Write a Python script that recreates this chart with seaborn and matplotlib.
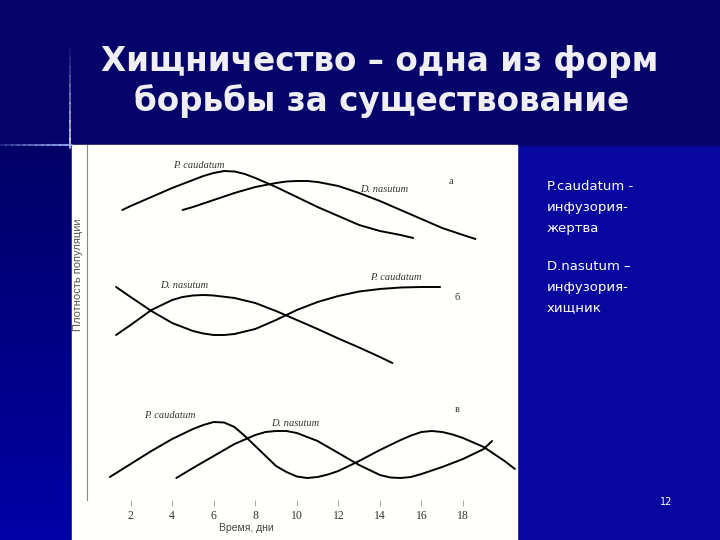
import matplotlib
matplotlib.use("Agg")
import matplotlib.pyplot as plt
import seaborn as sns
import numpy as np
import pandas as pd
from matplotlib.patches import Rectangle
from matplotlib.lines import Line2D

# --- data (time in days, density in arbitrary units) ---
# panel а
a_pc_days = [1.6, 2, 3, 4, 5, 5.5, 6, 6.5, 7, 7.5, 8, 9, 10, 11, 12, 13, 14, 15, 15.6]
a_pc_vals = [29.0, 29.4, 30.3, 31.2, 32.0, 32.4, 32.7, 32.9, 32.85, 32.6, 32.2,
             31.3, 30.3, 29.3, 28.4, 27.5, 26.9, 26.5, 26.2]
a_dn_days = [4.5, 5, 6, 7, 8, 9, 9.5, 10, 10.5, 11, 12, 13, 14, 15, 16, 17, 18, 18.6]
a_dn_vals = [29.0, 29.3, 30.0, 30.7, 31.3, 31.7, 31.85, 31.9, 31.9, 31.8, 31.4,
             30.7, 29.9, 29.0, 28.1, 27.2, 26.5, 26.1]

# panel б
b_pc_days = [1.3, 2, 3, 4, 5, 5.5, 6, 6.5, 7, 8, 9, 10, 11, 12, 13, 14, 15, 16, 16.9]
b_pc_vals = [21.3, 20.3, 18.9, 17.7, 16.9, 16.65, 16.5, 16.5, 16.6, 17.1, 18.0,
             19.0, 19.8, 20.4, 20.85, 21.1, 21.25, 21.3, 21.3]
b_dn_days = [1.3, 2, 3, 4, 4.5, 5, 5.5, 6, 7, 8, 9, 10, 11, 12, 13, 14, 14.6]
b_dn_vals = [16.5, 17.5, 19.0, 20.0, 20.3, 20.45, 20.5, 20.45, 20.2, 19.7, 18.9,
             18.0, 17.1, 16.15, 15.25, 14.3, 13.7]

# panel в
c_pc_days = [1, 2, 3, 4, 5, 5.5, 6, 6.5, 7, 7.5, 8, 8.5, 9, 9.5, 10, 10.5, 11,
             11.5, 12, 13, 14, 15, 15.5, 16, 16.5, 17, 17.5, 18, 19, 20, 20.5]
c_pc_vals = [2.3, 3.6, 4.9, 6.1, 7.1, 7.5, 7.8, 7.75, 7.3, 6.4, 5.4, 4.4, 3.4,
             2.8, 2.35, 2.2, 2.3, 2.55, 2.9, 3.9, 5.0, 6.0, 6.45, 6.8, 6.9, 6.8,
             6.55, 6.2, 5.3, 3.9, 3.1]
c_dn_days = [4.2, 5, 6, 7, 8, 8.5, 9, 9.5, 10, 11, 12, 13, 14, 14.5, 15, 15.5,
             16, 17, 18, 19, 19.4]
c_dn_vals = [2.2, 3.2, 4.4, 5.6, 6.5, 6.8, 6.9, 6.9, 6.7, 5.9, 4.7, 3.5, 2.5,
             2.25, 2.2, 2.3, 2.6, 3.3, 4.1, 5.1, 5.9]

x_ticks = [2, 4, 6, 8, 10, 12, 14, 16, 18]

title_1 = "Хищничество – одна из форм"
title_2 = "борьбы за существование"
note_prey = ["P.caudatum -", "инфузория-", "жертва"]
note_pred = ["D.nasutum –", "инфузория-", "хищник"]

curves = [
    ("а", "P. caudatum", a_pc_days, a_pc_vals),
    ("а", "D. nasutum", a_dn_days, a_dn_vals),
    ("б", "P. caudatum", b_pc_days, b_pc_vals),
    ("б", "D. nasutum", b_dn_days, b_dn_vals),
    ("в", "P. caudatum", c_pc_days, c_pc_vals),
    ("в", "D. nasutum", c_dn_days, c_dn_vals),
]
df = pd.concat([
    pd.DataFrame({"panel": p, "species": s, "day": d, "density": v, "curve": f"{p}-{s}"})
    for p, s, d, v in curves
], ignore_index=True)

sns.set_theme(style="white")
plt.rcParams['font.family'] = ['DejaVu Sans']

W, H = 720, 540
fig = plt.figure(figsize=(7.2, 5.4), dpi=100)
fig.patch.set_facecolor('#0808a0')

def fx(px):
    return px / W

def fy(py):
    return 1 - py / H

# slide background pieces
fig.add_artist(Rectangle((0, fy(145)), 1, 145 / H, transform=fig.transFigure,
                         color='#04046a', zorder=0))
grad = fig.add_axes([0, 0, fx(71), (540 - 145) / H], zorder=0)
grad.imshow(np.linspace(0, 1, 100).reshape(-1, 1), aspect='auto',
            cmap=matplotlib.colors.LinearSegmentedColormap.from_list('g', ['#000066', '#0000a6']))
grad.axis('off')

# glow lines
for i in range(12):
    a0 = i / 12
    fig.add_artist(Line2D([fx(70), fx(70)], [fy(40 + i * 9), fy(49 + i * 9)],
                          transform=fig.transFigure, color='white', lw=1.2, alpha=a0 * 0.9, zorder=2))
    fig.add_artist(Line2D([fx(i * 6), fx(i * 6 + 6)], [fy(145), fy(145)],
                          transform=fig.transFigure, color='#9fb4ff', lw=1.5, alpha=0.2 + a0 * 0.7, zorder=2))

# white panel
fig.add_artist(Rectangle((fx(72), 0), (517 - 72) / W, (540 - 145) / H, transform=fig.transFigure,
                         color='#fffffb', zorder=1))

ax = fig.add_axes([fx(87), fy(500), (517 - 87) / W, (500 - 145) / H], zorder=3)
ax.patch.set_alpha(0)

sns.lineplot(data=df, x="day", y="density", units="curve", estimator=None, sort=False,
             color='black', lw=1.4, ax=ax, solid_joinstyle='round', solid_capstyle='round')

ax.set_xlim(-0.1, 20.6)
ax.set_ylim(0, 35.5)
ax.set_xticks(x_ticks)
ax.set_xticklabels([str(t) for t in x_ticks], family='Liberation Serif', fontsize=8.5, color='#333')
ax.set_yticks([])
ax.tick_params(axis='x', bottom=True, direction='out', length=4.5, width=0.6, color='#999', pad=3)
for s in ['top', 'right', 'bottom']:
    ax.spines[s].set_visible(False)
ax.spines['left'].set_color('#888')
ax.spines['left'].set_linewidth(0.8)
ax.set_xlabel("")
ax.set_ylabel("")

lab = dict(family='Liberation Serif', style='italic', fontsize=7.5, color='#333', ha='center', va='center')
ax.text(5.3, 33.5, "P. caudatum", **lab)
ax.text(14.2, 31.1, "D. nasutum", **lab)
ax.text(4.6, 21.5, "D. nasutum", **lab)
ax.text(14.75, 22.2, "P. caudatum", **lab)
ax.text(3.9, 8.5, "P. caudatum", **lab)
ax.text(9.9, 7.7, "D. nasutum", **lab)
pl = dict(family='Liberation Serif', fontsize=7.5, color='#333', ha='center', va='center')
ax.text(17.4, 31.8, "а", **pl)
ax.text(17.7, 20.3, "б", **pl)
ax.text(17.7, 9.1, "в", **pl)

fig.text(fx(78), fy(275), "Плотность популяции", rotation=90, ha='center', va='center',
         family='Liberation Sans', fontsize=8, color='#555', zorder=4)
fig.text(fx(246), fy(528), "Время, дни", ha='center', va='center',
         family='Liberation Sans', fontsize=7.5, color='#444', zorder=4)

# title
tt = dict(ha='center', va='center', color='#eeeef4', fontsize=23.5, fontweight='bold',
          family='DejaVu Sans', zorder=4)
fig.text(fx(380), fy(61), title_1, **tt)
fig.text(fx(382), fy(101), title_2, **tt)

# side notes
nt = dict(ha='left', va='center', color='white', fontsize=9.5, family='DejaVu Sans', zorder=4)
for i, line in enumerate(note_prey):
    fig.text(fx(547), fy(187 + i * 20.5), line, **nt)
for i, line in enumerate(note_pred):
    fig.text(fx(547), fy(267 + i * 20.5), line, **nt)

fig.text(fx(666), fy(502), "12", ha='center', va='center', color='white', fontsize=7,
         family='DejaVu Sans', zorder=4)

fig.savefig("out.png", dpi=100, facecolor=fig.get_facecolor())
